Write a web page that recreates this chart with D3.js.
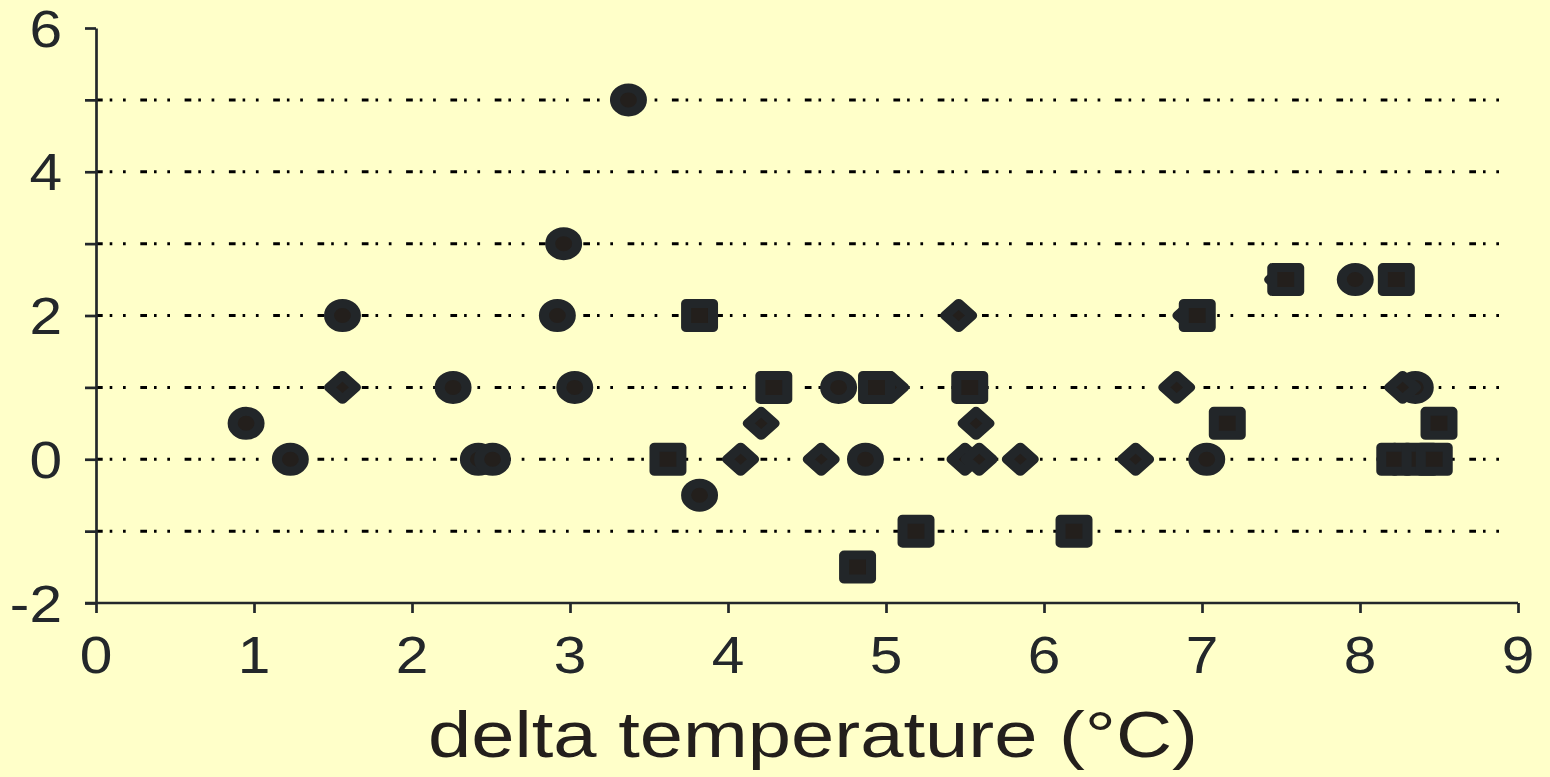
<!DOCTYPE html>
<head>
<meta charset="utf-8">
<style>
body { margin: 0; background: #ffffc9; }
svg { display: block; }
.grid line { stroke: #000; stroke-width: 3; stroke-dasharray: 6.7,7,2.6,10.7,2.7,14.6; }
.mark { fill: #231f1c; stroke: #222629; stroke-width: 9; stroke-linejoin: round; }
.tick-label { font-family: "Liberation Sans", Arial, sans-serif; font-size: 51px; fill: #23272a; }
.axis-title { font-family: "Liberation Sans", Arial, sans-serif; font-size: 65px; fill: #231f1c; }
</style>
<body>
<script src="https://cdn.jsdelivr.net/npm/d3@7"></script>
<script>

// tick values
var xTicks = [0, 1, 2, 3, 4, 5, 6, 7, 8, 9];
var yTicks = [-2, -1, 0, 1, 2, 3, 4, 5, 6];
var yLabels = [-2, 0, 2, 4, 6];
var gridValues = [-1, 0, 1, 2, 3, 4, 5];

// series: [delta temperature, value]
var circles = [
  [0.95, 0.5], [1.23, 0], [1.56, 2], [2.26, 1], [2.42, 0], [2.51, 0],
  [2.92, 2], [2.96, 3], [3.03, 1], [3.37, 5], [3.82, -0.5], [4.70, 1],
  [4.87, 0], [7.03, 0], [7.97, 2.5], [8.35, 1]
];
var diamonds = [
  [1.56, 1], [4.08, 0], [4.21, 0.5], [4.59, 0], [5.03, 1], [5.46, 2],
  [5.50, 0], [5.57, 0.5], [5.59, 0], [5.85, 0], [6.58, 0], [6.84, 1],
  [6.93, 2], [7.51, 2.5], [8.27, 1], [8.22, 0]
];
var squares = [
  [3.62, 0], [3.82, 2], [4.29, 1], [4.82, -1.5], [4.94, 1], [5.19, -1],
  [5.53, 1], [6.19, -1], [6.97, 2], [7.16, 0.5], [7.53, 2.5], [8.23, 2.5],
  [8.22, 0], [8.38, 0], [8.47, 0], [8.50, 0.5]
];

var W = 1550, H = 777;
var stretch = 1.15; // the original picture is a bit wider than tall

var x = d3.scaleLinear().domain([0, 9]).range([96, 1518]);
var y = d3.scaleLinear().domain([-2, 6]).range([603, 28]);

var svg = d3.select("body").append("svg")
    .attr("width", W)
    .attr("height", H);

svg.append("rect").attr("width", W).attr("height", H).attr("fill", "#ffffc9");

// dotted gridlines
svg.append("g").attr("class", "grid")
  .selectAll("line")
  .data(gridValues)
  .join("line")
    .attr("x1", x(0))
    .attr("x2", x(9) - 6)
    .attr("y1", function(d) { return y(d); })
    .attr("y2", function(d) { return y(d); });

// y axis
var yAxis = svg.append("g")
    .attr("transform", "translate(" + x(0) + ",0)")
    .call(d3.axisLeft(y).tickValues(yTicks).tickSize(11).tickSizeOuter(0).tickFormat(""));

// x axis
var xAxis = svg.append("g")
    .attr("transform", "translate(0," + y(-2) + ")")
    .call(d3.axisBottom(x).tickValues(xTicks).tickSize(10).tickSizeOuter(0).tickFormat(""));

[yAxis, xAxis].forEach(function(a) {
  a.select(".domain").attr("stroke", "#23282b").attr("stroke-width", 2.7);
  a.selectAll(".tick line").attr("stroke", "#23282b").attr("stroke-width", 2.7);
});
// x axis line reaches the y tick ends
xAxis.select(".domain").attr("d", "M" + (x(0) - 11) + ",0H" + x(9));

// tick labels
svg.append("g").selectAll("text")
  .data(yLabels)
  .join("text")
    .attr("class", "tick-label")
    .attr("text-anchor", "end")
    .attr("transform", function(d) { return "translate(62," + (y(d) + 18.5) + ") scale(" + stretch + ",1)"; })
    .text(function(d) { return d; });

svg.append("g").selectAll("text")
  .data(xTicks)
  .join("text")
    .attr("class", "tick-label")
    .attr("text-anchor", "middle")
    .attr("transform", function(d) { return "translate(" + x(d) + ",673) scale(" + stretch + ",1)"; })
    .text(function(d) { return d; });

// axis title
svg.append("text")
    .attr("class", "axis-title")
    .attr("x", 428)
    .attr("y", 757)
    .attr("textLength", 770)
    .attr("lengthAdjust", "spacingAndGlyphs")
    .text("delta temperature (°C)");

// markers
var diamondType = {
  draw: function(ctx, size) {
    var r = Math.sqrt(size) / 2;
    ctx.moveTo(0, -r);
    ctx.lineTo(r, 0);
    ctx.lineTo(0, r);
    ctx.lineTo(-r, 0);
    ctx.closePath();
  }
};

function drawSeries(data, type, size) {
  svg.append("g").selectAll("path")
    .data(data)
    .join("path")
      .attr("class", "mark")
      .attr("d", d3.symbol().type(type).size(size))
      .attr("transform", function(d) {
        return "translate(" + x(d[0]) + "," + y(d[1]) + ") scale(" + 1.12 + ",1)";
      });
}

drawSeries(circles, d3.symbolCircle, Math.PI * 144);
drawSeries(diamonds, diamondType, 576);
drawSeries(squares, d3.symbolSquare, 576);

</script>
</body>
